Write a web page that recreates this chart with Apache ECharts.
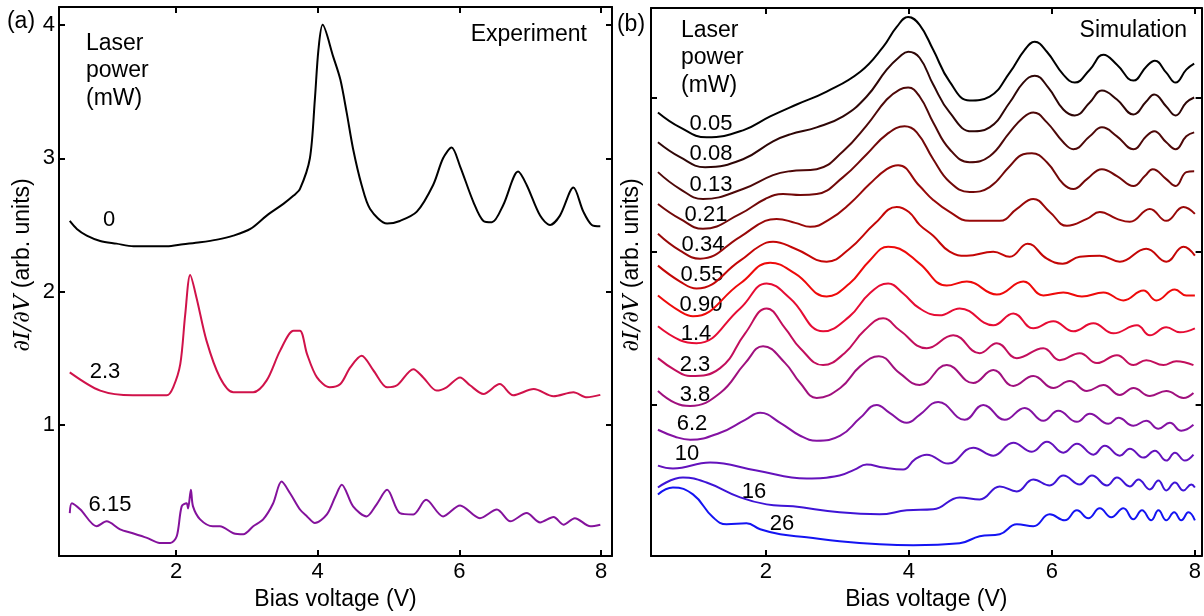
<!DOCTYPE html>
<html><head><meta charset="utf-8">
<script src="https://cdn.jsdelivr.net/npm/echarts@6/dist/echarts.min.js"></script>
<style>html,body{margin:0;padding:0;background:#fff}#c{width:1204px;height:616px}</style>
</head><body><div id="c"></div>
<script>
const FONT = '"Liberation Sans", Arial, Helvetica, sans-serif';

// ---------- Panel (a): Experiment ----------
const expLabels = ['0', '2.3', '6.15'];
const expColors = ['#000000', '#d0124a', '#84129c'];
const exp0 = [[0.50,2.53],[0.60,2.47],[0.74,2.42],[0.93,2.38],[1.16,2.36],[1.40,2.34],[1.63,2.34],[1.87,2.34],[2.10,2.355],[2.34,2.37],[2.58,2.39],[2.81,2.42],[3.05,2.47],[3.28,2.57],[3.52,2.66],[3.66,2.72],[3.75,2.77],[3.89,3.0],[3.96,3.44],[4.01,3.81],[4.07,4.0],[4.22,3.76],[4.32,3.59],[4.41,3.34],[4.50,3.07],[4.62,2.80],[4.74,2.62],[4.98,2.51],[5.16,2.53],[5.40,2.60],[5.63,2.80],[5.77,3.0],[5.89,3.08],[6.01,2.94],[6.20,2.67],[6.34,2.53],[6.46,2.52],[6.62,2.65],[6.83,2.90],[6.95,2.80],[7.14,2.57],[7.28,2.50],[7.42,2.57],[7.61,2.78],[7.75,2.60],[7.87,2.50],[7.99,2.49]];
const exp23 = [[0.50,1.395],[0.93,1.258],[1.39,1.223],[1.87,1.223],[1.96,1.283],[2.06,1.456],[2.13,1.829],[2.20,2.124],[2.29,1.953],[2.43,1.633],[2.62,1.357],[2.81,1.246],[3.09,1.246],[3.28,1.335],[3.47,1.558],[3.66,1.707],[3.75,1.707],[3.85,1.531],[3.99,1.357],[4.17,1.283],[4.32,1.307],[4.46,1.432],[4.62,1.519],[4.79,1.407],[4.98,1.283],[5.12,1.298],[5.35,1.419],[5.49,1.357],[5.68,1.258],[5.82,1.283],[6.01,1.357],[6.15,1.298],[6.34,1.233],[6.57,1.307],[6.76,1.223],[7.05,1.27],[7.33,1.216],[7.61,1.246],[7.80,1.208],[7.99,1.226]];
const exp615 = [[0.50,0.34],[0.53,0.414],[0.65,0.367],[0.88,0.241],[1.02,0.278],[1.21,0.218],[1.39,0.189],[1.59,0.154],[1.77,0.116],[1.92,0.116],[2.01,0.166],[2.08,0.39],[2.15,0.414],[2.17,0.375],[2.21,0.514],[2.24,0.39],[2.34,0.293],[2.52,0.241],[2.62,0.241],[2.81,0.189],[2.95,0.181],[3.09,0.241],[3.23,0.293],[3.37,0.412],[3.49,0.576],[3.61,0.489],[3.75,0.367],[3.85,0.315],[3.96,0.265],[4.13,0.33],[4.25,0.464],[4.34,0.553],[4.50,0.39],[4.69,0.315],[4.83,0.404],[4.98,0.514],[5.16,0.34],[5.35,0.33],[5.53,0.439],[5.77,0.315],[6.01,0.397],[6.29,0.302],[6.53,0.367],[6.72,0.278],[6.95,0.34],[7.14,0.27],[7.33,0.31],[7.47,0.253],[7.63,0.302],[7.85,0.241],[7.99,0.253]];

// ---------- Panel (b): Simulation ----------
const simLabels = ['0.05','0.08','0.13','0.21','0.34','0.55','0.90','1.4','2.3','3.8','6.2','10','16','26'];
const simColors = ['#000000','#2e0606','#4e0808','#720808','#980808','#c40606','#ee0a0a','#e60c34','#c20e5c','#a0107e','#8412a2','#6412bc','#3e14d6','#1414f2'];
const sim005 = [[0.49,4.46],[0.8,4.31],[1.17,4.21],[1.68,4.28],[2.06,4.42],[2.43,4.54],[2.85,4.67],[3.32,4.87],[3.64,5.12],[3.83,5.32],[3.99,5.42],[4.15,5.34],[4.34,5.09],[4.57,4.77],[4.85,4.58],[5.13,4.62],[5.41,4.86],[5.62,5.09],[5.76,5.17],[5.93,5.07],[6.16,4.84],[6.32,4.76],[6.53,4.89],[6.72,5.04],[6.91,4.94],[7.14,4.78],[7.32,4.92],[7.44,4.98],[7.60,4.86],[7.73,4.76],[7.88,4.89],[7.99,4.95]];
const sim008 = [[0.49,4.16],[0.8,4.01],[1.15,3.91],[1.68,3.99],[2.10,4.17],[2.34,4.24],[2.71,4.31],[3.08,4.42],[3.41,4.62],[3.69,4.89],[3.87,5.02],[3.99,5.07],[4.15,5.01],[4.34,4.74],[4.57,4.46],[4.88,4.27],[5.13,4.31],[5.41,4.56],[5.60,4.76],[5.76,4.83],[5.95,4.71],[6.16,4.49],[6.32,4.43],[6.53,4.56],[6.70,4.68],[6.91,4.59],[7.14,4.44],[7.32,4.57],[7.43,4.64],[7.60,4.52],[7.73,4.43],[7.88,4.56],[7.99,4.61]];
const sim013 = [[0.49,3.86],[0.8,3.69],[1.12,3.59],[1.68,3.69],[2.10,3.83],[2.34,3.87],[2.71,3.89],[3.08,4.07],[3.41,4.33],[3.69,4.59],[3.87,4.69],[3.99,4.71],[4.15,4.62],[4.34,4.36],[4.57,4.09],[4.85,3.96],[5.13,4.02],[5.41,4.26],[5.60,4.41],[5.74,4.46],[5.93,4.36],[6.16,4.16],[6.30,4.09],[6.53,4.22],[6.70,4.31],[6.91,4.22],[7.14,4.09],[7.32,4.22],[7.43,4.27],[7.60,4.16],[7.73,4.09],[7.88,4.22],[7.99,4.26]];
const sim021 = [[0.49,3.54],[0.8,3.39],[1.12,3.29],[1.64,3.44],[1.99,3.59],[2.24,3.64],[2.48,3.63],[2.71,3.64],[3.08,3.81],[3.41,4.04],[3.69,4.24],[3.94,4.32],[4.11,4.26],[4.34,3.99],[4.57,3.76],[4.85,3.66],[5.13,3.71],[5.41,3.92],[5.60,4.04],[5.72,4.05],[5.93,3.96],[6.16,3.74],[6.30,3.69],[6.49,3.79],[6.70,3.89],[6.91,3.82],[7.14,3.72],[7.30,3.82],[7.41,3.89],[7.60,3.79],[7.73,3.72],[7.88,3.86],[7.99,3.87]];
const sim034 = [[0.49,3.24],[0.8,3.07],[1.08,2.99],[1.64,3.21],[1.99,3.37],[2.15,3.39],[2.41,3.35],[2.62,3.31],[2.90,3.39],[3.17,3.54],[3.45,3.74],[3.69,3.89],[3.85,3.93],[4.15,3.72],[4.34,3.58],[4.57,3.46],[4.85,3.37],[5.27,3.37],[5.51,3.49],[5.74,3.59],[5.97,3.46],[6.21,3.32],[6.49,3.39],[6.67,3.46],[6.91,3.39],[7.09,3.36],[7.37,3.49],[7.60,3.37],[7.84,3.51],[8.0,3.44]];
const sim055 = [[0.49,2.92],[0.8,2.76],[1.03,2.69],[1.64,2.97],[1.92,3.12],[2.10,3.16],[2.41,3.09],[2.85,2.96],[3.17,3.09],[3.52,3.34],[3.83,3.51],[4.0,3.46],[4.15,3.33],[4.34,3.22],[4.57,3.06],[4.81,3.02],[5.18,3.06],[5.41,3.01],[5.66,3.14],[5.93,2.99],[6.15,2.94],[6.39,3.01],[6.67,3.02],[6.95,2.96],[7.32,3.09],[7.60,2.96],[7.84,3.11],[8.0,3.02]];
const sim090 = [[0.49,2.62],[0.8,2.46],[0.98,2.41],[1.64,2.74],[2.06,2.95],[2.41,2.84],[2.85,2.61],[3.17,2.74],[3.45,2.97],[3.71,3.11],[3.87,3.09],[4.15,2.94],[4.53,2.72],[4.81,2.76],[5.23,2.63],[5.60,2.76],[5.88,2.62],[6.16,2.65],[6.42,2.61],[6.72,2.65],[7.0,2.57],[7.28,2.67],[7.46,2.57],[7.72,2.68],[7.88,2.62],[8.0,2.62]];
const sim14 = [[0.49,2.31],[0.8,2.17],[1.03,2.14],[1.64,2.49],[2.01,2.74],[2.34,2.59],[2.80,2.26],[3.17,2.41],[3.45,2.64],[3.71,2.74],[3.92,2.64],[4.15,2.49],[4.43,2.42],[4.71,2.49],[5.18,2.32],[5.46,2.44],[5.74,2.29],[6.02,2.36],[6.30,2.26],[6.58,2.34],[6.86,2.24],[7.19,2.32],[7.37,2.22],[7.60,2.30],[7.79,2.25],[8.0,2.29]];
const sim23 = [[0.49,1.99],[0.73,1.87],[0.94,1.81],[1.36,1.89],[1.71,2.24],[2.01,2.49],[2.27,2.29],[2.48,2.09],[2.80,1.92],[3.10,2.04],[3.38,2.27],[3.64,2.39],[3.87,2.27],[4.25,2.09],[4.62,2.22],[4.99,2.04],[5.23,2.14],[5.51,1.99],[5.88,2.09],[6.11,1.97],[6.39,2.04],[6.63,1.94],[6.91,2.02],[7.14,1.92],[7.32,1.97],[7.56,1.92],[7.74,1.96],[7.98,1.92]];
const sim38 = [[0.49,1.66],[0.73,1.54],[0.94,1.51],[1.36,1.64],[1.71,1.94],[1.96,2.11],[2.27,1.94],[2.48,1.74],[2.71,1.59],[3.04,1.69],[3.32,1.91],[3.58,2.01],[3.87,1.84],[4.15,1.72],[4.53,1.92],[4.90,1.74],[5.18,1.87],[5.46,1.71],[5.74,1.81],[6.02,1.69],[6.25,1.76],[6.49,1.66],[6.72,1.72],[6.95,1.62],[7.14,1.69],[7.37,1.61],[7.60,1.66],[7.84,1.59],[7.98,1.64]];
const sim62 = [[0.49,1.27],[0.73,1.20],[0.94,1.17],[1.36,1.24],[1.71,1.37],[1.92,1.44],[2.20,1.34],[2.48,1.21],[2.71,1.16],[3.04,1.21],[3.32,1.39],[3.55,1.52],[3.73,1.44],[3.97,1.34],[4.15,1.42],[4.41,1.55],[4.78,1.37],[5.04,1.52],[5.34,1.37],[5.62,1.49],[5.88,1.36],[6.09,1.46],[6.35,1.35],[6.53,1.43],[6.79,1.33],[6.93,1.39],[7.14,1.31],[7.32,1.36],[7.49,1.28],[7.65,1.34],[7.81,1.26],[7.98,1.32]];
const sim10 = [[0.49,0.91],[0.70,0.88],[1.22,0.94],[1.87,0.86],[2.57,0.78],[3.03,0.81],[3.24,0.87],[3.41,0.92],[3.64,0.89],[3.92,0.87],[4.08,0.97],[4.25,1.02],[4.55,0.93],[4.90,1.09],[5.18,1.01],[5.46,1.14],[5.72,1.05],[5.93,1.15],[6.16,1.04],[6.35,1.13],[6.58,1.02],[6.74,1.11],[6.95,1.01],[7.09,1.08],[7.28,0.99],[7.44,1.06],[7.60,0.96],[7.72,1.04],[7.86,0.96],[7.98,1.02]];
const sim16 = [[0.49,0.69],[0.84,0.79],[1.17,0.74],[1.64,0.59],[2.01,0.52],[2.38,0.50],[3.03,0.44],[3.59,0.42],[3.97,0.46],[4.34,0.47],[4.71,0.59],[4.99,0.57],[5.27,0.70],[5.51,0.65],[5.74,0.77],[5.97,0.71],[6.16,0.81],[6.39,0.72],[6.56,0.81],[6.77,0.71],[6.91,0.79],[7.09,0.70],[7.21,0.77],[7.37,0.67],[7.49,0.76],[7.60,0.66],[7.72,0.74],[7.84,0.66],[7.95,0.72],[8.0,0.69]];
const sim26 = [[0.49,0.62],[0.70,0.69],[0.98,0.62],[1.26,0.39],[1.45,0.32],[1.73,0.33],[1.92,0.27],[2.20,0.22],[2.57,0.19],[3.03,0.15],[3.59,0.12],[4.06,0.11],[4.71,0.13],[4.99,0.20],[5.27,0.22],[5.51,0.32],[5.74,0.30],[5.97,0.42],[6.18,0.36],[6.35,0.46],[6.51,0.38],[6.67,0.48],[6.83,0.39],[7.0,0.48],[7.14,0.37],[7.26,0.46],[7.39,0.36],[7.49,0.46],[7.60,0.36],[7.71,0.44],[7.81,0.36],[7.91,0.44],[8.0,0.36]];

// Tick values
const xTicks = [2, 4, 6, 8];
const yTicksA = [1, 2, 3, 4];
const yTicksB = [1.517, 3.057, 4.607];

const expSeriesData = [exp0, exp23, exp615];
const simSeriesData = [sim005, sim008, sim013, sim021, sim034, sim055, sim090, sim14, sim23, sim38, sim62, sim10, sim16, sim26];

// ---------- layout (pixels) ----------
const expLabelPos = [[109,220],[105,372],[110,505]];
const simLabelPos = [[711,124],[711,154],[711,185],[706,215],[703,245],[702,275],[701,305],[696,334],[695,365],[695,395],[692,424],[687,454],[754,492],[782,524]];

const AX = {color:'#000', width:2};
function xAx(grid, pos, min, max, labels, name) {
  return {
    type:'value', gridIndex:grid, position:pos, min:min, max:max,
    splitLine:{show:false},
    axisLine:{show:true, onZero:false, lineStyle:AX},
    axisTick:{show:true, inside:true, length:6, customValues:xTicks, lineStyle:AX},
    axisLabel:{show:labels, customValues:xTicks, margin:5, fontSize:22, color:'#000', fontFamily:FONT},
    name: name || '', nameLocation:'middle', nameGap:29,
    nameTextStyle:{fontSize:23, color:'#000', fontFamily:FONT}
  };
}
function yAx(grid, pos, min, max, ticks, labels) {
  return {
    type:'value', gridIndex:grid, position:pos, min:min, max:max,
    splitLine:{show:false},
    axisLine:{show:true, onZero:false, lineStyle:AX},
    axisTick:{show:true, inside:true, length:6, customValues:ticks, lineStyle:AX},
    axisLabel:{show:labels, customValues:ticks, margin:4, fontSize:22, color:'#000', fontFamily:FONT}
  };
}

const series = [];
expSeriesData.forEach((d, i) => series.push({
  type:'line', xAxisIndex:0, yAxisIndex:0, data:d, showSymbol:false, symbol:'none',
  smooth:0.3, lineStyle:{color:expColors[i], width:2}, silent:true
}));
simSeriesData.forEach((d, i) => series.push({
  type:'line', xAxisIndex:2, yAxisIndex:2, data:d, showSymbol:false, symbol:'none',
  smooth:0.45, lineStyle:{color:simColors[i], width:2}, silent:true
}));

function txt(x, y, s, opts) {
  return Object.assign({type:'text', x:x, y:y, silent:true,
    style:Object.assign({text:s, fill:'#000', fontSize:22, fontFamily:FONT, align:'center', verticalAlign:'middle'}, opts||{})});
}
const graphics = [
  txt(21, 22, '(a)', {fontSize:23}),
  txt(631, 25, '(b)', {fontSize:23}),
  txt(86, 44, 'Laser', {fontSize:23, align:'left'}),
  txt(86, 71, 'power', {fontSize:23, align:'left'}),
  txt(86, 99, '(mW)', {fontSize:23, align:'left'}),
  txt(587, 35, 'Experiment', {fontSize:23, align:'right'}),
  txt(681, 31, 'Laser', {fontSize:23, align:'left'}),
  txt(681, 58, 'power', {fontSize:23, align:'left'}),
  txt(681, 86, '(mW)', {fontSize:23, align:'left'}),
  txt(1187, 31, 'Simulation', {fontSize:23, align:'right'}),
  {type:'text', x:23, y:265, rotation:Math.PI/2, silent:true, style:{
    text:'{i|∂I/∂V} (arb. units)', fill:'#000', fontSize:23, fontFamily:FONT, align:'center', verticalAlign:'middle',
    rich:{i:{fontStyle:'italic', fontSize:23, fontFamily:'"DejaVu Serif", "Liberation Serif", serif', fill:'#000'}}}},
  {type:'text', x:632, y:265, rotation:Math.PI/2, silent:true, style:{
    text:'{i|∂I/∂V} (arb. units)', fill:'#000', fontSize:23, fontFamily:FONT, align:'center', verticalAlign:'middle',
    rich:{i:{fontStyle:'italic', fontSize:23, fontFamily:'"DejaVu Serif", "Liberation Serif", serif', fill:'#000'}}}}
];
expLabels.forEach((s, i) => graphics.push(txt(expLabelPos[i][0], expLabelPos[i][1], s)));
simLabels.forEach((s, i) => graphics.push(txt(simLabelPos[i][0], simLabelPos[i][1], s)));

const chart = echarts.init(document.getElementById('c'));
chart.setOption({
  animation:false,
  backgroundColor:'#fff',
  grid:[
    {left:59, right:592, top:7, bottom:56},
    {left:651, right:2, top:8, bottom:57}
  ],
  xAxis:[
    xAx(0, 'bottom', 0.348, 8.155, true, 'Bias voltage (V)'),
    xAx(0, 'top', 0.348, 8.155, false),
    xAx(1, 'bottom', 0.393, 8.094, true, 'Bias voltage (V)'),
    xAx(1, 'top', 0.393, 8.094, false)
  ],
  yAxis:[
    yAx(0, 'left', 0.0174, 4.134, yTicksA, true),
    yAx(0, 'right', 0.0174, 4.134, yTicksA, false),
    yAx(1, 'left', 0, 5.51, yTicksB, false),
    yAx(1, 'right', 0, 5.51, yTicksB, false)
  ],
  series:series,
  graphic:graphics
});
</script></body></html>
